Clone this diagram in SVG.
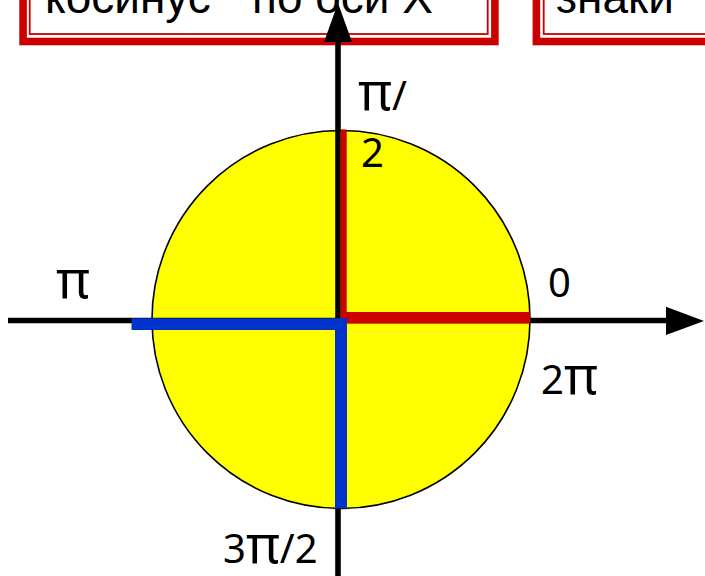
<svg xmlns="http://www.w3.org/2000/svg" width="705" height="576" viewBox="0 0 705 576">
<style>
.frame{fill:#fff;stroke:#cc0000;stroke-width:7.6}
.inner{fill:none;stroke:#cc0000;stroke-width:1.8}
.boxtxt{font-family:"Liberation Sans",Arial,sans-serif;font-size:46px;fill:#000}
.lbl{font-family:"Noto Sans","Open Sans",sans-serif;font-size:40px;fill:#000}
.pi{font-size:52px}
.axis{stroke:#000;stroke-width:5.6;fill:none}
</style>
<rect width="705" height="576" fill="#fff"/>
<g id="box-cosine">
<rect class="frame" x="23.1" y="-20" width="471.8" height="61.5"/>
<rect class="inner" x="29.7" y="-20" width="458" height="54"/>
<text class="boxtxt" y="13"><tspan x="45">косинус</tspan><tspan x="252">по оси Х</tspan></text>
</g>
<g id="box-signs">
<rect class="frame" x="536.4" y="-20" width="300" height="61.5"/>
<rect class="inner" x="543.7" y="-20" width="300" height="54"/>
<text class="boxtxt" x="556" y="13">знаки</text>
</g>
<g id="circle">
<circle cx="341" cy="319.5" r="189" fill="#ffff00" stroke="#000" stroke-width="1.6"/>
</g>
<g id="connectors">
<line class="axis" x1="8" y1="320.5" x2="668" y2="320.5"/>
<polygon points="666,306.7 704,321 666,335" fill="#000"/>
<line class="axis" x1="338" y1="576" x2="338" y2="40"/>
<polygon points="324,42 338,3 352,42" fill="#000"/>
</g>
<g id="segments">
<rect x="340.7" y="129.5" width="6" height="190" fill="#cc0000"/>
<rect x="341" y="312" width="189" height="11.5" fill="#cc0000"/>
<rect x="131.5" y="318.3" width="215.5" height="11.7" fill="#0033cc"/>
<rect x="335" y="318.3" width="12" height="190.2" fill="#0033cc"/>
</g>
<g id="labels">
<text class="lbl" x="358" y="110"><tspan class="pi">π</tspan>/</text>
<text class="lbl" x="361" y="167">2</text>
<text class="lbl pi" x="56" y="298">π</text>
<text class="lbl" x="548" y="297">0</text>
<text class="lbl" x="541" y="394">2<tspan class="pi">π</tspan></text>
<text class="lbl" x="223" y="563">3<tspan class="pi">π</tspan>/2</text>
</g>
</svg>
